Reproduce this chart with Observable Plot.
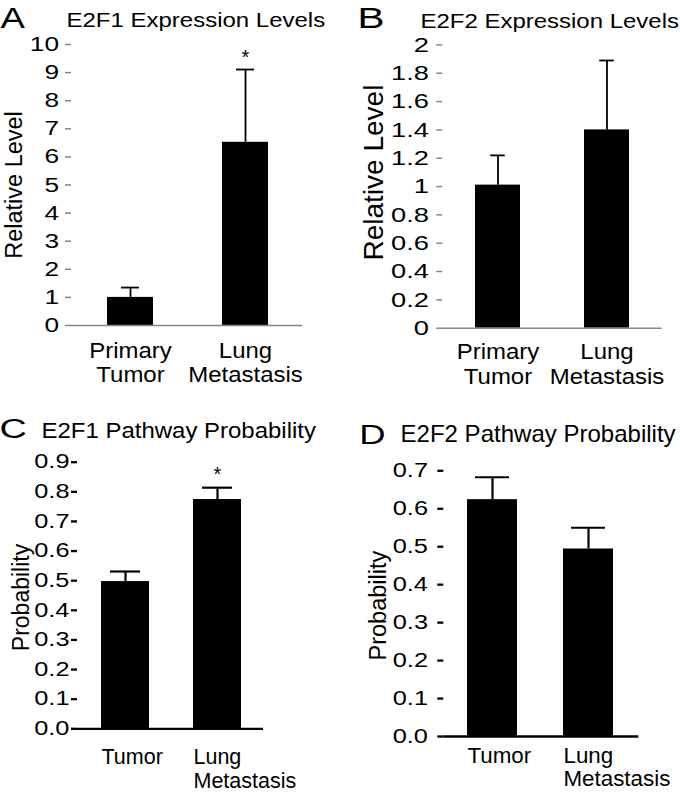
<!DOCTYPE html>
<html>
<head>
<meta charset="utf-8">
<script src="https://cdn.jsdelivr.net/npm/d3@7"></script>
<script src="https://cdn.jsdelivr.net/npm/@observablehq/plot@0.6"></script>
<style>
html, body { margin: 0; padding: 0; background: #fff; }
#fig { position: relative; width: 680px; height: 792px; overflow: hidden; background: #fff; }
#fig > svg { position: absolute; }
</style>
</head>
<body>
<div id="fig"></div>
<script>
// ---------- data ----------
const catsTop = ["Primary Tumor", "Lung Metastasis"];
const catLabelsTop = ["Primary\nTumor", "Lung\nMetastasis"];
const catsBottom = ["Tumor", "Lung Metastasis"];
const catLabelsBottom = ["Tumor", "Lung\nMetastasis"];

// A: E2F1 expression (relative level), upper error (SEM)
const e2f1Expr = [1.0, 6.52];
const e2f1ExprErr = [0.35, 2.59];
const e2f1ExprSig = [false, true];

// B: E2F2 expression
const e2f2Expr = [1.01, 1.40];
const e2f2ExprErr = [0.21, 0.49];
const e2f2ExprSig = [false, false];

// C: E2F1 pathway probability
const e2f1Path = [0.497, 0.774];
const e2f1PathErr = [0.034, 0.040];
const e2f1PathSig = [false, true];

// D: E2F2 pathway probability
const e2f2Path = [0.624, 0.494];
const e2f2PathErr = [0.059, 0.056];
const e2f2PathSig = [false, false];

// tick values and labels
const ticksA = [0, 1, 2, 3, 4, 5, 6, 7, 8, 9, 10];
const tickLabelsA = ["0", "1", "2", "3", "4", "5", "6", "7", "8", "9", "10"];
const ticksB = [0, 0.2, 0.4, 0.6, 0.8, 1, 1.2, 1.4, 1.6, 1.8, 2];
const tickLabelsB = ["0", "0.2", "0.4", "0.6", "0.8", "1", "1.2", "1.4", "1.6", "1.8", "2"];
const ticksC = [0, 0.1, 0.2, 0.3, 0.4, 0.5, 0.6, 0.7, 0.8, 0.9];
const tickLabelsC = ["0.0", "0.1", "0.2", "0.3", "0.4", "0.5", "0.6", "0.7", "0.8", "0.9"];
const ticksD = [0, 0.1, 0.2, 0.3, 0.4, 0.5, 0.6, 0.7];
const tickLabelsD = ["0.0", "0.1", "0.2", "0.3", "0.4", "0.5", "0.6", "0.7"];

// ---------- helpers ----------
// widen a text horizontally about its anchor point (the source figure's type is horizontally stretched)
function stretchTexts(svg, strings, sx) {
  if (!sx || sx === 1) return;
  const set = new Set(strings);
  Array.from(svg.querySelectorAll("text")).forEach(t => {
    if (!set.has(t.textContent)) return;
    const g = document.createElementNS("http://www.w3.org/2000/svg", "g");
    t.parentNode.insertBefore(g, t);
    g.appendChild(t);
    const bb = g.getBBox();
    const anchor = getComputedStyle(t).textAnchor;
    const ax = anchor === "end" ? bb.x + bb.width : anchor === "middle" ? bb.x + bb.width / 2 : bb.x;
    g.setAttribute("transform", `translate(${ax},0) scale(${sx},1) translate(${-ax},0)`);
  });
}

function panel(o) {
  const rows = o.cats.map((c, i) => ({
    cat: c, label: o.catLabels[i], value: o.values[i],
    hi: o.values[i] + o.err[i], sig: o.sig[i]
  }));
  const tickText = new Map(o.ticks.map((t, i) => [t, o.tickLabels[i]]));
  const svg = Plot.plot({
    width: 340, height: 396,
    marginLeft: o.ml, marginRight: o.mr, marginTop: o.mt, marginBottom: o.mb,
    style: {fontFamily: '"Liberation Sans", Arial, Helvetica, sans-serif', background: "transparent", color: "black", overflow: "visible"},
    x: {type: "band", domain: o.cats, paddingInner: o.pi, paddingOuter: o.po, align: o.align, axis: null},
    y: {domain: [0, o.ticks[o.ticks.length - 1]]},
    marks: [
      Plot.barY(rows, {x: "cat", y: "value", fill: "black"}),
      Plot.ruleX(rows, {x: "cat", y1: "value", y2: "hi", stroke: "black", strokeWidth: o.ew}),
      Plot.tickY(rows, {x: "cat", y: "hi", stroke: "black", strokeWidth: o.ew, insetLeft: o.capInset, insetRight: o.capInset}),
      Plot.ruleY([0], {stroke: o.axisColor, strokeWidth: o.aw}),
      Plot.axisY(o.ticks, {
        line: true, label: null, tickSize: 6, tickPadding: o.tp,
        tickFormat: d => tickText.get(d), fontSize: o.tickFs,
        stroke: o.axisColor, strokeWidth: o.aw, fill: "black"
      }),
      Plot.text(rows, {
        x: "cat", text: "label", frameAnchor: "bottom", lineAnchor: "top",
        textAnchor: o.catAnchor, dx: o.catDx, dy: o.catDy,
        fontSize: o.catFs, lineHeight: o.catLh, fill: "black"
      }),
      Plot.text([o.ylabel], {
        text: d => d, frameAnchor: "left", textAnchor: "middle", lineAnchor: "middle",
        rotate: -90, dx: o.ylDx, dy: o.ylDy, fontSize: o.ylFs, fill: "black"
      }),
      Plot.text([o.title], {
        text: d => d, frameAnchor: "top-left", textAnchor: "start", lineAnchor: "bottom",
        dx: o.tDx, dy: o.tDy, fontSize: o.tFs, fill: "black"
      }),
      Plot.text([o.letter], {
        text: d => d, frameAnchor: "top-left", textAnchor: "start", lineAnchor: "bottom",
        dx: o.lDx, dy: o.lDy, fontSize: o.lFs, fill: "black"
      }),
      Plot.text(rows.filter(d => d.sig), {
        x: "cat", y: "hi", text: () => "*", lineAnchor: "bottom", dy: o.starDy,
        fontSize: 20, fill: "black"
      })
    ]
  });
  svg.style.left = o.left + "px";
  svg.style.top = o.top + "px";
  document.getElementById("fig").appendChild(svg);
  stretchTexts(svg, o.tickLabels, o.tickSx);
  stretchTexts(svg, o.catLabels.map(s => s.replace("\n", "")), o.catSx);
  stretchTexts(svg, [o.title], o.tSx);
  stretchTexts(svg, [o.letter], o.lSx);
}

// ---------- panels ----------
panel({
  left: 0, top: 0,
  cats: catsTop, catLabels: catLabelsTop, values: e2f1Expr, err: e2f1ExprErr, sig: e2f1ExprSig,
  ticks: ticksA, tickLabels: tickLabelsA,
  ml: 71, mr: 38, mt: 44, mb: 71, pi: 0.6, po: 0.304, align: 0.514,
  axisColor: "#858585", aw: 1.5, ew: 1.8, capInset: 14,
  tp: 6.5, tickFs: 20.5, tickSx: 1.28,
  catAnchor: "middle", catDx: 0, catDy: 15.5, catFs: 22, catLh: 1.1, catSx: 1.09,
  ylabel: "Relative Level", ylDx: -57.2, ylDy: 0, ylFs: 23.5,
  title: "E2F1 Expression Levels", tDx: -5, tDy: -18, tFs: 20, tSx: 1.2,
  letter: "A", lDx: -71, lDy: -17, lFs: 30, lSx: 1.22,
  starDy: -6
});

panel({
  left: 340, top: 0,
  cats: catsTop, catLabels: catLabelsTop, values: e2f2Expr, err: e2f2ExprErr, sig: e2f2ExprSig,
  ticks: ticksB, tickLabels: tickLabelsB,
  ml: 102.3, mr: 18.3, mt: 44.4, mb: 68.3, pi: 0.584, po: 0.2956, align: 0.495,
  axisColor: "#858585", aw: 1.5, ew: 1.8, capInset: 15.25,
  tp: 7.8, tickFs: 21, tickSx: 1.3,
  catAnchor: "middle", catDx: 0, catDy: 14.1, catFs: 22, catLh: 1.1, catSx: 1.09,
  ylabel: "Relative Level", ylDx: -68.3, ylDy: -14, ylFs: 28,
  title: "E2F2 Expression Levels", tDx: -22.3, tDy: -17.4, tFs: 19.5, tSx: 1.23,
  letter: "B", lDx: -85.3, lDy: -17.4, lFs: 30, lSx: 1.35,
  starDy: -6
});

panel({
  left: 0, top: 396,
  cats: catsBottom, catLabels: catLabelsBottom, values: e2f1Path, err: e2f1PathErr, sig: e2f1PathSig,
  ticks: ticksC, tickLabels: tickLabelsC,
  ml: 77, mr: 77, mt: 65.7, mb: 63.7, pi: 0.481, po: 0.246, align: 0.527,
  axisColor: "black", aw: 2.3, ew: 2.2, capInset: 9,
  tp: 2, tickFs: 19.5, tickSx: 1.3,
  catAnchor: "start", catDx: -24, catDy: 18.5, catFs: 21.5, catLh: 1.12, catSx: 1,
  ylabel: "Probability", ylDx: -55.4, ylDy: 2, ylFs: 23,
  title: "E2F1 Pathway Probability", tDx: -36, tDy: -24.4, tFs: 22, tSx: 1.09,
  letter: "C", lDx: -78, lDy: -24.7, lFs: 28, lSx: 1.35,
  starDy: -6.8
});

panel({
  left: 340, top: 396,
  cats: catsBottom, catLabels: catLabelsBottom, values: e2f2Path, err: e2f2PathErr, sig: e2f2PathSig,
  ticks: ticksD, tickLabels: tickLabelsD,
  ml: 103.3, mr: 41.7, mt: 74.3, mb: 56, pi: 0.481, po: 0.253, align: 0.49,
  axisColor: "black", aw: 2.3, ew: 2.2, capInset: 8,
  tp: 9.8, tickFs: 19.5, tickSx: 1.3,
  catAnchor: "start", catDx: -25, catDy: 9.5, catFs: 21.5, catLh: 1.1, catSx: 1.04,
  ylabel: "Probability", ylDx: -65.8, ylDy: 2, ylFs: 23.5,
  title: "E2F2 Pathway Probability", tDx: -43.3, tDy: -28.6, tFs: 23, tSx: 1.045,
  letter: "D", lDx: -84.5, lDy: -27.3, lFs: 28, lSx: 1.3,
  starDy: -6.8
});
</script>
</body>
</html>
